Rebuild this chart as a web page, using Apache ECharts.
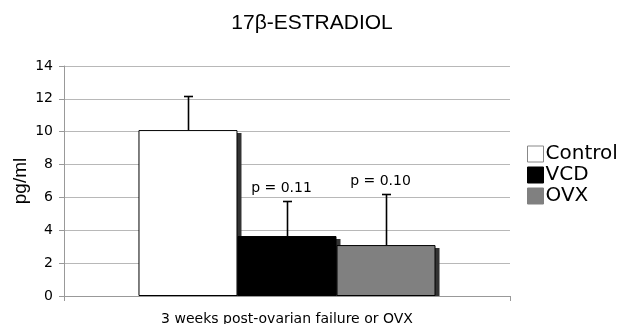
<!DOCTYPE html>
<html>
<head>
<meta charset="utf-8">
<script src="https://cdn.jsdelivr.net/npm/echarts@6/dist/echarts.min.js"></script>
<style>
  html, body { margin: 0; padding: 0; background: #fff; }
  #chart { width: 624px; height: 324px; }
</style>
</head>
<body>
<div id="chart"></div>
<script>
const categories = ['3 weeks post-ovarian failure or OVX'];
const groups = ['Control', 'VCD', 'OVX'];
const groupColors = ['#ffffff', '#000000', '#808080'];
const means = [10.1, 3.65, 3.1];
const upper = [12.15, 5.8, 6.2];
const pLabels = ['', 'p = 0.11', 'p = 0.10'];
const yTicks = { min: 0, max: 14, interval: 2 };

const BAR_FRAC = 0.222;

const chart = echarts.init(document.getElementById('chart'), null, { renderer: 'canvas' });

const barSeries = groups.map((g, i) => ({
  name: g,
  type: 'bar',
  barWidth: (BAR_FRAC * 100) + '%',
  barGap: '0%',
  data: [means[i]],
  itemStyle: { color: groupColors[i], borderColor: '#000', borderWidth: 1 },
  z: 3
}));

const barData = groups.map((g, i) => [0, means[i], upper[i]]);

// drop shadow behind each bar
const shadowSeries = {
  type: 'custom',
  name: 'shadow',
  data: barData,
  z: 2,
  renderItem: (params, api) => {
    const idx = params.dataIndex;
    const band = api.size([1, 0])[0];
    const w = band * BAR_FRAC;
    const top = api.coord([api.value(0), api.value(1)]);
    const base = api.coord([api.value(0), 0]);
    const x = top[0] + (idx - 1) * w - w / 2;
    return {
      type: 'rect',
      shape: { x: x + 4, y: top[1] + 3, width: w, height: base[1] - top[1] - 3 },
      style: { fill: '#333' }
    };
  }
};

const errSeries = {
  type: 'custom',
  name: 'err',
  data: barData,
  z: 5,
  renderItem: (params, api) => {
    const idx = params.dataIndex;
    const band = api.size([1, 0])[0];
    const off = (idx - 1) * band * BAR_FRAC;
    const lo = api.coord([api.value(0), api.value(1)]);
    const hi = api.coord([api.value(0), api.value(2)]);
    const x = Math.round(lo[0] + off) + 0.5;
    const y = Math.round(hi[1]) + 0.5;
    const cap = 4.5;
    const children = [
      { type: 'line', shape: { x1: x, y1: lo[1], x2: x, y2: y }, style: { stroke: '#000', lineWidth: 1.6 } },
      { type: 'line', shape: { x1: x - cap, y1: y, x2: x + cap, y2: y }, style: { stroke: '#000', lineWidth: 1.6 } }
    ];
    const txt = pLabels[idx];
    if (txt) {
      children.push({
        type: 'text',
        style: {
          text: txt, x: x - 6, y: y - 6,
          textAlign: 'center', textVerticalAlign: 'bottom',
          font: '14px "DejaVu Sans"', fill: '#000'
        }
      });
    }
    return { type: 'group', children };
  }
};

chart.setOption({
  animation: false,
  title: {
    text: '17β-ESTRADIOL',
    left: 'center',
    top: 8,
    textStyle: { fontFamily: 'Liberation Sans', fontSize: 21, fontWeight: 'normal', color: '#000' }
  },
  legend: {
    orient: 'vertical',
    left: 522,
    top: 139,
    itemWidth: 16,
    itemHeight: 16,
    itemGap: 1,
    data: groups.map((g, i) => ({
      name: g,
      icon: 'rect',
      itemStyle: { color: groupColors[i], borderColor: i === 0 ? '#888' : groupColors[i], borderWidth: 1 }
    })),
    textStyle: { fontFamily: 'DejaVu Sans', fontSize: 20, lineHeight: 20, color: '#000', padding: [0, 0, 0, -3] }
  },
  grid: { left: 64, right: 114, top: 66, bottom: 28, containLabel: false, outerBoundsMode: 'none' },
  xAxis: {
    type: 'category',
    data: categories,
    axisLine: { lineStyle: { color: '#999' } },
    axisTick: { show: true, length: 5, lineStyle: { color: '#999' } },
    axisLabel: { fontFamily: 'DejaVu Sans', fontSize: 14, color: '#000', margin: 16 }
  },
  yAxis: {
    type: 'value',
    min: yTicks.min,
    max: yTicks.max,
    interval: yTicks.interval,
    name: 'pg/ml',
    nameLocation: 'middle',
    nameGap: 34,
    nameMoveOverlap: false,
    nameTextStyle: { fontFamily: 'Liberation Sans', fontSize: 19, color: '#000' },
    axisLine: { show: true, lineStyle: { color: '#999' } },
    axisTick: { show: true, length: 5, lineStyle: { color: '#999' } },
    axisLabel: { fontFamily: 'DejaVu Sans', fontSize: 14, color: '#000', margin: 11 },
    splitLine: { lineStyle: { color: '#b8b8b8' } }
  },
  series: [shadowSeries, ...barSeries, errSeries]
});
</script>
</body>
</html>
